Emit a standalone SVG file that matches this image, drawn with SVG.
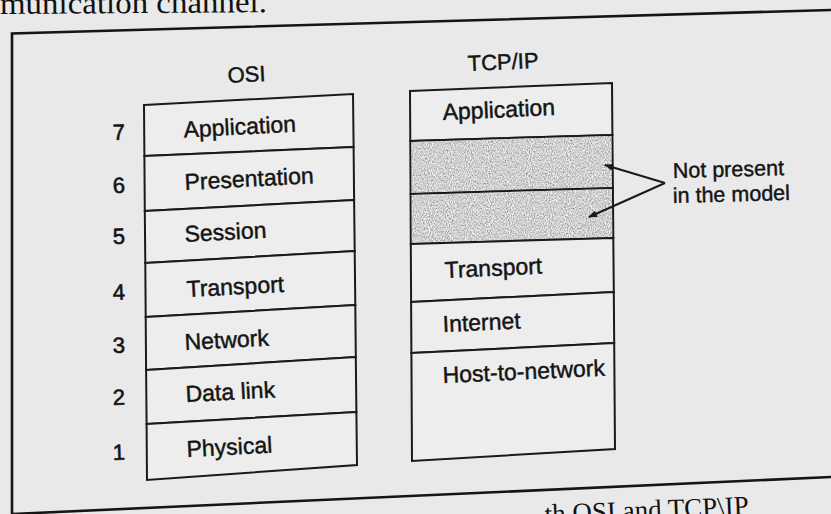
<svg xmlns="http://www.w3.org/2000/svg" width="831" height="514" viewBox="0 0 831 514">
  <style>
    .paper { fill: #e9e9e9; }
    .frame { fill: none; stroke: #151515; stroke-width: 2.6; }
    .layer { fill: #ededed; stroke: #1a1a1a; stroke-width: 2; stroke-linejoin: miter; }
    .blank { fill: #a6a6a6; stroke: #1a1a1a; stroke-width: 2; }
    .lbl { font-family: "Liberation Sans", Arial, sans-serif; font-size: 23px; fill: #141414; stroke: #141414; stroke-width: 0.45px; }
    .num { font-family: "Liberation Sans", Arial, sans-serif; font-size: 22px; fill: #141414; stroke: #141414; stroke-width: 0.6px; }
    .ttl { font-family: "Liberation Sans", Arial, sans-serif; font-size: 22px; fill: #141414; stroke: #141414; stroke-width: 0.45px; }
    .note { font-family: "Liberation Sans", Arial, sans-serif; font-size: 21.5px; fill: #141414; stroke: #141414; stroke-width: 0.4px; }
    .body { font-family: "Liberation Serif", "Times New Roman", serif; font-size: 31px; fill: #111111; }
    .conn { fill: none; stroke: #1a1a1a; stroke-width: 2; }
  </style>
  <defs>
    <marker id="arrowhead" viewBox="0 0 10 8" refX="9" refY="4" markerWidth="10" markerHeight="7" markerUnits="userSpaceOnUse" orient="auto">
      <path d="M0,0 L10,4 L0,8 Z" fill="#1a1a1a"/>
    </marker>
    <!-- speckled halftone for the layers the model leaves out -->
    <filter id="grain" x="0" y="0" width="100%" height="100%">
      <feTurbulence type="fractalNoise" baseFrequency="0.95 0.6" numOctaves="2" seed="7" result="noise"/>
      <feColorMatrix in="noise" type="matrix" values="1.1 0 0 0 0.08  1.1 0 0 0 0.08  1.1 0 0 0 0.08  0 0 0 0 1" result="speck"/>
      <feComposite in="speck" in2="SourceGraphic" operator="in"/>
    </filter>
  </defs>

  <rect class="paper" x="0" y="0" width="831" height="514"/>

  <!-- running text above and below the figure -->
  <text class="body" x="0" y="14" textLength="267" lengthAdjust="spacingAndGlyphs" transform="rotate(-0.4 0 14)">munication channel.</text>
  <text class="body" x="545" y="523" style="font-size:27px" transform="rotate(-2.4 545 523)">th OSI and TCP\IP</text>

  <!-- figure frame -->
  <g id="frame">
    <path class="frame" d="M12,514 L12,33.5 L831,10"/>
    <path class="frame" d="M12,514 L831,477"/>
  </g>

  <!-- OSI reference model -->
  <g id="osi">
    <text class="ttl" x="228" y="83" transform="rotate(-3 228 83)">OSI</text>
    <g id="osi-7">
      <polygon class="layer" points="144,105 353,94 353.6,147 144.4,156"/>
      <text class="num" x="113" y="140" transform="rotate(-2 113 140)">7</text>
      <text class="lbl" x="184" y="137.5" transform="rotate(-3 184 137.5)">Application</text>
    </g>
    <g id="osi-6">
      <polygon class="layer" points="144.4,156 353.6,147 354.1,200 144.8,211"/>
      <text class="num" x="113" y="193" transform="rotate(-2 113 193)">6</text>
      <text class="lbl" x="185" y="190" transform="rotate(-3 185 190)">Presentation</text>
    </g>
    <g id="osi-5">
      <polygon class="layer" points="144.8,211 354.1,200 354.7,251 145.3,263"/>
      <text class="num" x="113" y="244" transform="rotate(-2 113 244)">5</text>
      <text class="lbl" x="185" y="242" transform="rotate(-3 185 242)">Session</text>
    </g>
    <g id="osi-4">
      <polygon class="layer" points="145.3,263 354.7,251 355.3,305 145.7,317"/>
      <text class="num" x="113" y="300" transform="rotate(-2 113 300)">4</text>
      <text class="lbl" x="187" y="297" transform="rotate(-3 187 297)">Transport</text>
    </g>
    <g id="osi-3">
      <polygon class="layer" points="145.7,317 355.3,305 355.8,357 146.1,370"/>
      <text class="num" x="113" y="353" transform="rotate(-2 113 353)">3</text>
      <text class="lbl" x="185" y="350" transform="rotate(-3 185 350)">Network</text>
    </g>
    <g id="osi-2">
      <polygon class="layer" points="146.1,370 355.8,357 356.4,412 146.6,424"/>
      <text class="num" x="113" y="405" transform="rotate(-2 113 405)">2</text>
      <text class="lbl" x="186" y="402" transform="rotate(-3 186 402)">Data link</text>
    </g>
    <g id="osi-1">
      <polygon class="layer" points="146.6,424 356.4,412 357,465 147,480"/>
      <text class="num" x="113" y="460" transform="rotate(-2 113 460)">1</text>
      <text class="lbl" x="187" y="457" transform="rotate(-3 187 457)">Physical</text>
    </g>
  </g>

  <!-- TCP/IP reference model -->
  <g id="tcpip">
    <text class="ttl" x="468" y="71" transform="rotate(-2.5 468 71)">TCP/IP</text>
    <g id="tcp-application">
      <polygon class="layer" points="410,91 612,83 612.4,135 410.3,141"/>
      <text class="lbl" x="443" y="120" transform="rotate(-2.6 443 120)">Application</text>
    </g>
    <g id="tcp-absent-presentation">
      <polygon class="blank" points="410.3,141 612.4,135 612.9,188 410.6,194"/>
      <polygon fill="#000" filter="url(#grain)" points="411.3,142 611.4,136 611.9,187 411.6,193"/>
    </g>
    <g id="tcp-absent-session">
      <polygon class="blank" points="410.6,194 612.9,188 613.3,238 410.8,244"/>
      <polygon fill="#000" filter="url(#grain)" points="411.6,195 611.9,189 612.3,237 411.8,243"/>
    </g>
    <g id="tcp-transport">
      <polygon class="layer" points="410.8,244 613.3,238 613.8,292 411.1,302"/>
      <text class="lbl" x="445" y="278" transform="rotate(-2.6 445 278)">Transport</text>
    </g>
    <g id="tcp-internet">
      <polygon class="layer" points="411.1,302 613.8,292 614.2,343 411.4,353"/>
      <text class="lbl" x="443" y="332" transform="rotate(-2.6 443 332)">Internet</text>
    </g>
    <g id="tcp-host-to-network">
      <polygon class="layer" points="411.4,353 614.2,343 615,449 412,461"/>
      <text class="lbl" x="443" y="383" transform="rotate(-2.6 443 383)">Host-to-network</text>
    </g>
  </g>

  <!-- callout text -->
  <g id="note">
    <text class="note" x="673" y="178" transform="rotate(-1.5 673 178)">Not present</text>
    <text class="note" x="673" y="203" transform="rotate(-1.5 673 203)">in the model</text>
  </g>

  <!-- callout arrows -->
  <g id="connectors">
    <line class="conn" x1="665" y1="183" x2="605" y2="165" marker-end="url(#arrowhead)"/>
    <line class="conn" x1="665" y1="183" x2="589" y2="217" marker-end="url(#arrowhead)"/>
  </g>
</svg>
